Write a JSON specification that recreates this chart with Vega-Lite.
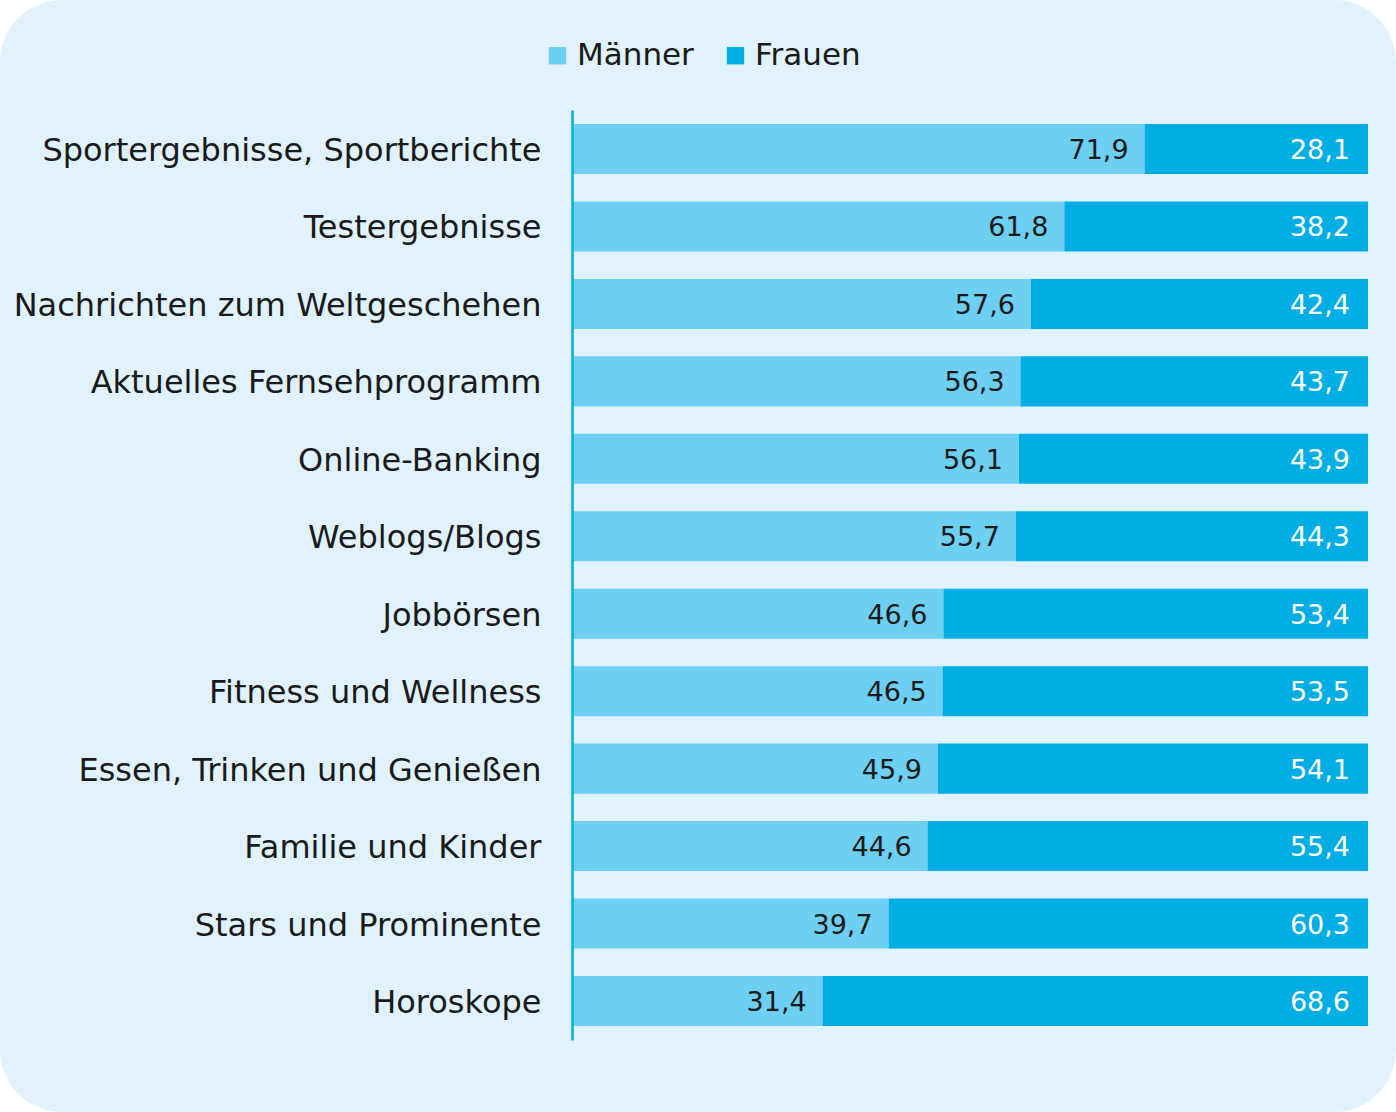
{
  "$schema": "https://vega.github.io/schema/vega-lite/v6.json",
  "width": 1396,
  "height": 1112,
  "autosize": {"type": "none"},
  "padding": 0,
  "background": "#ffffff",
  "config": {
    "view": {"fill": "#dff2fd", "stroke": null, "cornerRadius": 62},
    "font": "DejaVu Sans",
    "locale": {"number": {"decimal": ",", "thousands": ".", "grouping": [3], "currency": ["", " €"]}}
  },
  "data": {
    "values": [
      {"cat": "Sportergebnisse, Sportberichte", "sex": "Männer", "value": 71.9},
      {"cat": "Sportergebnisse, Sportberichte", "sex": "Frauen", "value": 28.1},
      {"cat": "Testergebnisse", "sex": "Männer", "value": 61.8},
      {"cat": "Testergebnisse", "sex": "Frauen", "value": 38.2},
      {"cat": "Nachrichten zum Weltgeschehen", "sex": "Männer", "value": 57.6},
      {"cat": "Nachrichten zum Weltgeschehen", "sex": "Frauen", "value": 42.4},
      {"cat": "Aktuelles Fernsehprogramm", "sex": "Männer", "value": 56.3},
      {"cat": "Aktuelles Fernsehprogramm", "sex": "Frauen", "value": 43.7},
      {"cat": "Online-Banking", "sex": "Männer", "value": 56.1},
      {"cat": "Online-Banking", "sex": "Frauen", "value": 43.9},
      {"cat": "Weblogs/Blogs", "sex": "Männer", "value": 55.7},
      {"cat": "Weblogs/Blogs", "sex": "Frauen", "value": 44.3},
      {"cat": "Jobbörsen", "sex": "Männer", "value": 46.6},
      {"cat": "Jobbörsen", "sex": "Frauen", "value": 53.4},
      {"cat": "Fitness und Wellness", "sex": "Männer", "value": 46.5},
      {"cat": "Fitness und Wellness", "sex": "Frauen", "value": 53.5},
      {"cat": "Essen, Trinken und Genießen", "sex": "Männer", "value": 45.9},
      {"cat": "Essen, Trinken und Genießen", "sex": "Frauen", "value": 54.1},
      {"cat": "Familie und Kinder", "sex": "Männer", "value": 44.6},
      {"cat": "Familie und Kinder", "sex": "Frauen", "value": 55.4},
      {"cat": "Stars und Prominente", "sex": "Männer", "value": 39.7},
      {"cat": "Stars und Prominente", "sex": "Frauen", "value": 60.3},
      {"cat": "Horoskope", "sex": "Männer", "value": 31.4},
      {"cat": "Horoskope", "sex": "Frauen", "value": 68.6}
    ]
  },
  "transform": [
    {"stack": "value", "groupby": ["cat"], "sort": [{"field": "sex", "order": "descending"}], "as": ["v0", "v1"]}
  ],
  "encoding": {
    "y": {
      "field": "cat",
      "type": "nominal",
      "sort": null,
      "scale": {"range": [110, 1040], "paddingInner": 0.354, "paddingOuter": 0.181, "align": 0.5},
      "axis": {
        "title": null,
        "orient": "left",
        "offset": -572,
        "zindex": 1,
        "domain": true,
        "domainColor": "#00ade5",
        "domainWidth": 2.5,
        "ticks": false,
        "labelPadding": 31,
        "labelOffset": 2,
        "labelFontSize": 32,
        "labelColor": "#1a1a1a",
        "labelFont": "DejaVu Sans",
        "labelLimit": 700
      }
    }
  },
  "layer": [
    {
      "mark": {"type": "bar"},
      "encoding": {
        "x": {"field": "v0", "type": "quantitative", "scale": {"domain": [-72.08, 103.52], "nice": false, "zero": false}, "axis": null},
        "x2": {"field": "v1"},
        "color": {
          "field": "sex",
          "type": "nominal",
          "scale": {"domain": ["Männer", "Frauen"], "range": ["#6dcff1", "#00ade5"]},
          "legend": {
            "title": null,
            "orient": "none",
            "legendX": 542,
            "legendY": 40,
            "direction": "horizontal",
            "symbolType": "square",
            "symbolSize": 300,
            "symbolStrokeWidth": 0,
            "labelFontSize": 31,
            "labelColor": "#1a1a1a",
            "labelFont": "DejaVu Sans",
            "labelOffset": 4,
            "columnPadding": 26,
            "labelLimit": 300
          }
        }
      }
    },
    {
      "transform": [{"filter": "datum.sex === 'Männer'"}],
      "mark": {"type": "text", "align": "right", "baseline": "middle", "dx": -16, "dy": 2, "fontSize": 27, "color": "#1a1a1a", "font": "DejaVu Sans"},
      "encoding": {
        "x": {"field": "v1", "type": "quantitative"},
        "text": {"field": "value", "type": "quantitative", "format": ".1f"}
      }
    },
    {
      "transform": [{"filter": "datum.sex === 'Frauen'"}],
      "mark": {"type": "text", "align": "right", "baseline": "middle", "dx": -18, "dy": 2, "fontSize": 27, "color": "#ffffff", "font": "DejaVu Sans"},
      "encoding": {
        "x": {"field": "v1", "type": "quantitative"},
        "text": {"field": "value", "type": "quantitative", "format": ".1f"}
      }
    }
  ]
}
